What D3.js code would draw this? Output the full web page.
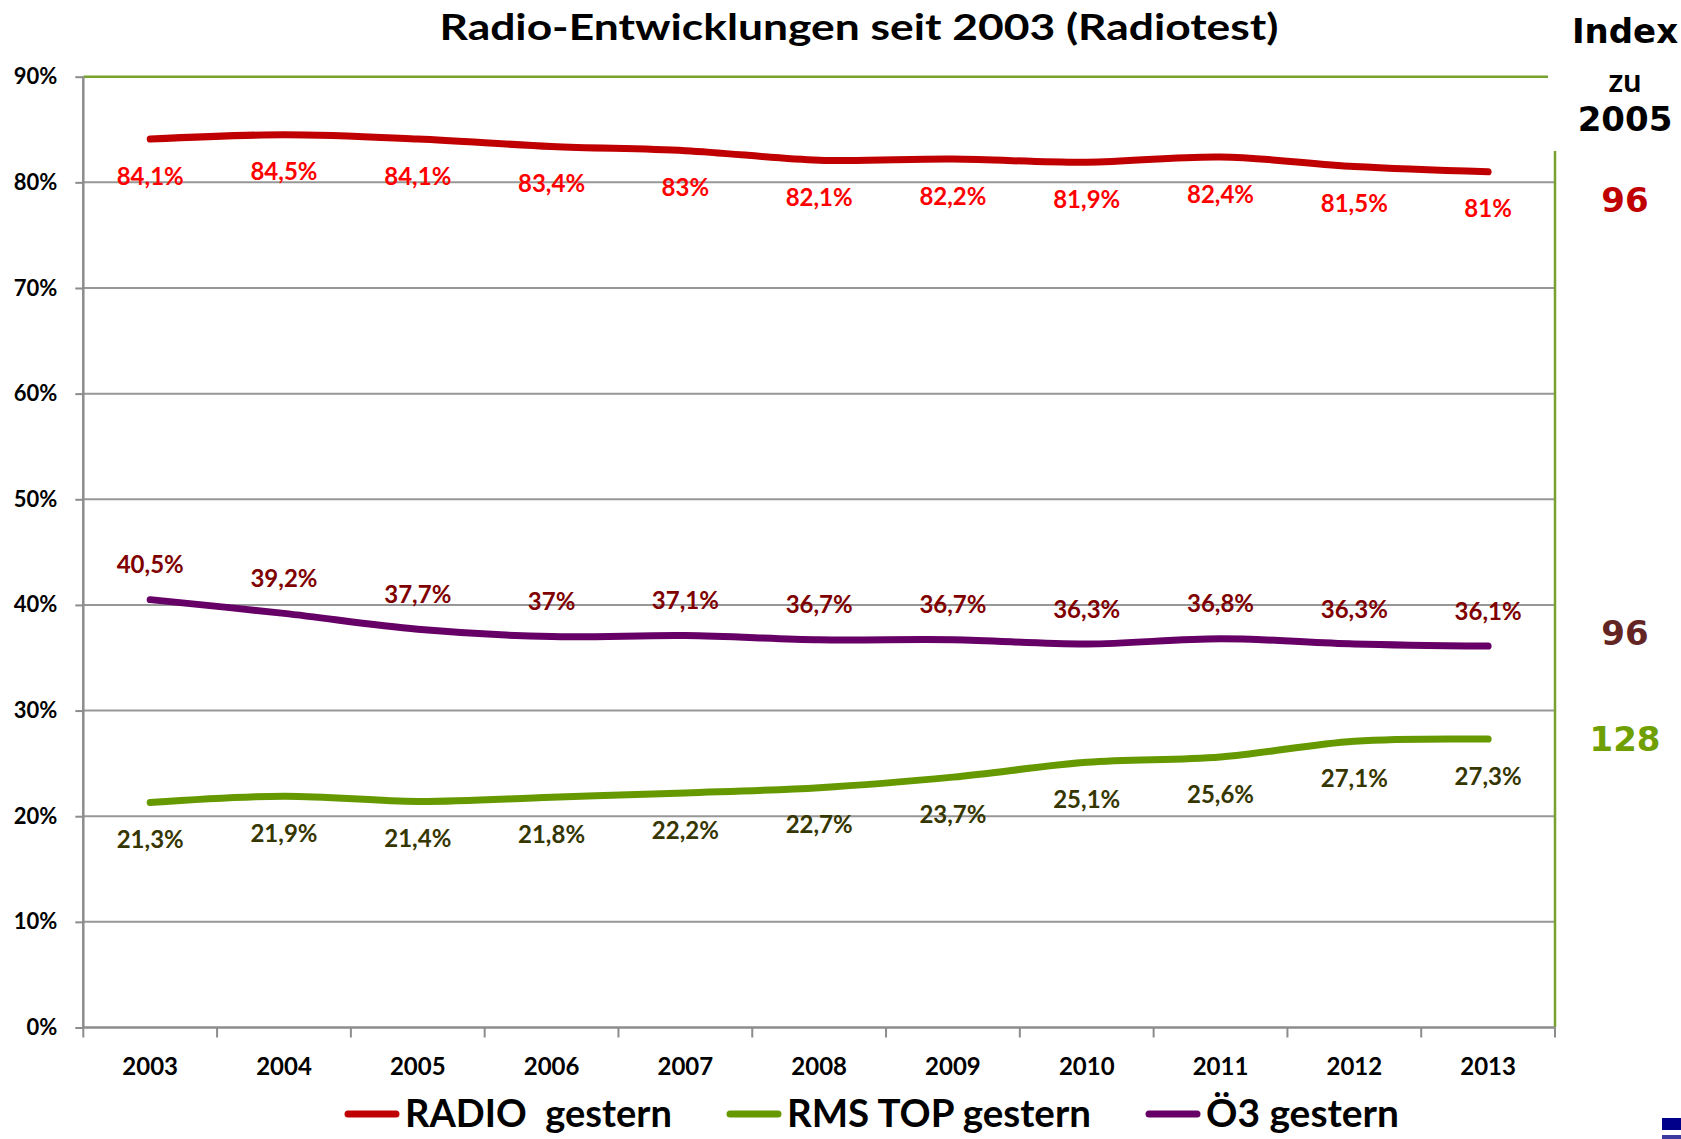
<!DOCTYPE html>
<html>
<head>
<meta charset="utf-8">
<script src="https://cdn.jsdelivr.net/npm/d3@7"></script>
<style>
  body { margin: 0; background: #fff; }
  svg { display: block; }
  text { font-family: Lato, "Liberation Sans", sans-serif; font-weight: bold; white-space: pre; }
  .idx { font-family: "DejaVu Sans", Verdana, sans-serif; font-weight: bold; }
</style>
</head>
<body>
<svg width="1681" height="1139"></svg>
<script>
var years = ["2003", "2004", "2005", "2006", "2007", "2008", "2009", "2010", "2011", "2012", "2013"];
var radio = [84.1, 84.5, 84.1, 83.4, 83, 82.1, 82.2, 81.9, 82.4, 81.5, 81];
var rmsTop = [21.3, 21.9, 21.4, 21.8, 22.2, 22.7, 23.7, 25.1, 25.6, 27.1, 27.3];
var oe3 = [40.5, 39.2, 37.7, 37, 37.1, 36.7, 36.7, 36.3, 36.8, 36.3, 36.1];
var yTicks = [0, 10, 20, 30, 40, 50, 60, 70, 80, 90];
var seriesNames = ["RADIO  gestern", "RMS TOP gestern", "Ö3 gestern"];
var indexValues = ["96", "128", "96"];
var indexHeader = ["Index", "zu", "2005"];

var svg = d3.select("svg");

var plotLeft = 83.3, plotRight = 1555, plotTop = 76.7, plotBottom = 1027.5;

var x = d3.scaleBand().domain(years).range([plotLeft, plotRight]);
var y = d3.scaleLinear().domain([0, 90]).range([plotBottom, plotTop]);

// series styles: line colour, label colour, label offset, index colour, index offset
var series = [
    { name: seriesNames[0], values: radio, color: "#c00000", labelColor: "#ff0000", dy: 37, idx: indexValues[0], idxColor: "#c00000", idxDy: 28 },
    { name: seriesNames[1], values: rmsTop, color: "#669900", labelColor: "#363600", dy: 37, idx: indexValues[1], idxColor: "#6f9f00", idxDy: 0 },
    { name: seriesNames[2], values: oe3, color: "#660066", labelColor: "#800000", dy: -35, idx: indexValues[2], idxColor: "#632523", idxDy: -13 }
];

// title
svg.append("text")
    .attr("x", 859).attr("y", 40)
    .attr("text-anchor", "middle")
    .attr("font-size", 36)
    .attr("textLength", 839)
    .attr("lengthAdjust", "spacingAndGlyphs")
    .attr("fill", "#000")
    .text("Radio-Entwicklungen seit 2003 (Radiotest)");

// gridlines
svg.append("g")
    .selectAll("line")
    .data(yTicks.filter(function (d) { return d > 0 && d < 90; }))
    .enter().append("line")
    .attr("x1", plotLeft).attr("x2", plotRight)
    .attr("y1", function (d) { return y(d); })
    .attr("y2", function (d) { return y(d); })
    .attr("stroke", "#979797")
    .attr("stroke-width", 2);

// top line (green)
svg.append("line")
    .attr("x1", plotLeft).attr("x2", 1548)
    .attr("y1", y(90)).attr("y2", y(90))
    .attr("stroke", "#77a22d").attr("stroke-width", 2.5);

// right green border
svg.append("line")
    .attr("x1", plotRight).attr("x2", plotRight)
    .attr("y1", 151).attr("y2", plotBottom)
    .attr("stroke", "#77a22d").attr("stroke-width", 2.5);

// y axis
var yAxis = svg.append("g")
    .attr("transform", "translate(" + plotLeft + ",0)")
    .call(d3.axisLeft(y).tickValues(yTicks).tickSize(8).tickPadding(18)
        .tickFormat(function (d) { return d + "%"; }));
yAxis.select(".domain").attr("stroke", "#8c8c8c").attr("stroke-width", 2.5).attr("d", "M0," + plotBottom + "V" + plotTop);
yAxis.selectAll(".tick line").attr("stroke", "#8c8c8c").attr("stroke-width", 2);
yAxis.selectAll(".tick text")
    .attr("font-family", "Lato, 'Liberation Sans', sans-serif")
    .attr("font-weight", "bold")
    .attr("font-size", 22)
    .attr("fill", "#000");

// x axis with ticks at category boundaries
var xAxis = svg.append("g")
    .attr("transform", "translate(0," + plotBottom + ")")
    .call(d3.axisBottom(x).tickSize(0).tickPadding(30));
xAxis.select(".domain").attr("stroke", "#8c8c8c").attr("stroke-width", 2.5).attr("d", "M" + plotLeft + ",0H" + plotRight);
xAxis.selectAll(".tick text")
    .attr("font-family", "Lato, 'Liberation Sans', sans-serif")
    .attr("font-weight", "bold")
    .attr("font-size", 24)
    .attr("fill", "#000");
xAxis.selectAll(".bound")
    .data(years.map(function (d) { return x(d); }).concat([plotRight]))
    .enter().append("line")
    .attr("class", "bound")
    .attr("x1", function (d) { return d; }).attr("x2", function (d) { return d; })
    .attr("y1", 0).attr("y2", 10)
    .attr("stroke", "#8c8c8c").attr("stroke-width", 2);

// lines
var line = d3.line()
    .x(function (d, i) { return x(years[i]) + x.bandwidth() / 2; })
    .y(function (d) { return y(d); })
    .curve(d3.curveCatmullRom.alpha(0.5));

svg.append("g")
    .selectAll("path")
    .data(series)
    .enter().append("path")
    .attr("d", function (s) { return line(s.values); })
    .attr("fill", "none")
    .attr("stroke", function (s) { return s.color; })
    .attr("stroke-width", 7)
    .attr("stroke-linecap", "round")
    .attr("stroke-linejoin", "round");

// data labels
function fmt(v) { return String(v).replace(".", ",") + "%"; }

series.forEach(function (s) {
    svg.append("g")
        .selectAll("text")
        .data(s.values)
        .enter().append("text")
        .attr("x", function (d, i) { return x(years[i]) + x.bandwidth() / 2; })
        .attr("y", function (d) { return y(d) + s.dy; })
        .attr("dy", "0.36em")
        .attr("text-anchor", "middle")
        .attr("font-size", 24)
        .attr("fill", s.labelColor)
        .text(fmt);
});

// index column
var idxX = 1625;
svg.append("text").attr("class", "idx")
    .attr("x", idxX).attr("y", 43).attr("text-anchor", "middle")
    .attr("font-size", 34).attr("fill", "#000").text(indexHeader[0]);
svg.append("text")
    .attr("x", idxX).attr("y", 92).attr("text-anchor", "middle")
    .attr("font-size", 32).attr("fill", "#000").text(indexHeader[1]);
svg.append("text").attr("class", "idx")
    .attr("x", idxX).attr("y", 131).attr("text-anchor", "middle")
    .attr("font-size", 34).attr("fill", "#000").text(indexHeader[2]);

svg.append("g")
    .selectAll("text")
    .data(series)
    .enter().append("text")
    .attr("class", "idx")
    .attr("x", idxX)
    .attr("y", function (s) { return y(s.values[s.values.length - 1]) + s.idxDy; })
    .attr("dy", "0.36em")
    .attr("text-anchor", "middle")
    .attr("font-size", 34)
    .attr("fill", function (s) { return s.idxColor; })
    .text(function (s) { return s.idx; });

// legend
var legendTextW = [267, 304, 193];
var lx = 345;
series.forEach(function (s, i) {
    var g = svg.append("g").attr("transform", "translate(" + lx + ",1114)");
    g.append("line")
        .attr("x1", 3).attr("x2", 51)
        .attr("stroke", s.color).attr("stroke-width", 7)
        .attr("stroke-linecap", "round");
    g.append("text")
        .attr("x", 60).attr("y", 13)
        .attr("font-size", 38)
        .attr("textLength", legendTextW[i])
        .attr("lengthAdjust", "spacingAndGlyphs")
        .attr("fill", "#000")
        .text(s.name);
    lx += 60 + legendTextW[i] + 55;
});

// logo fragment bottom right
svg.append("rect").attr("x", 1662).attr("y", 1118).attr("width", 19).attr("height", 12).attr("fill", "#00008b");
svg.append("rect").attr("x", 1662).attr("y", 1135).attr("width", 19).attr("height", 4).attr("fill", "#3a3aa0");
</script>
</body>
</html>
